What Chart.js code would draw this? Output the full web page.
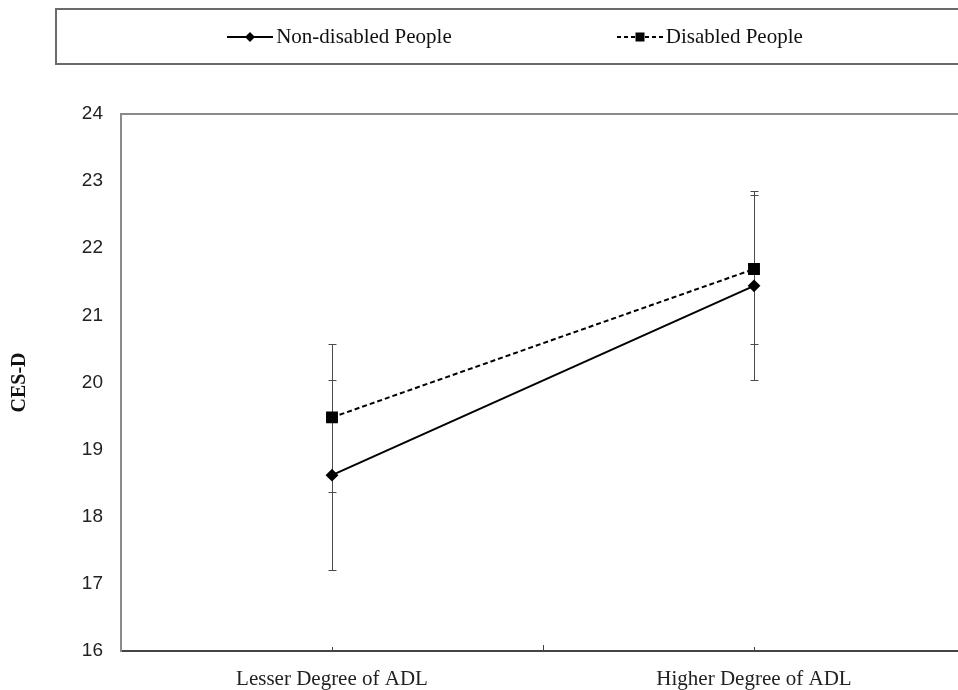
<!DOCTYPE html>
<html>
<head>
<meta charset="utf-8">
<script src="https://cdn.jsdelivr.net/npm/chart.js@4.4.1/dist/chart.umd.min.js"></script>
<style>
  html, body { margin: 0; padding: 0; background: #fff; overflow: hidden; width: 958px; height: 690px; }
  #wrap { position: relative; width: 990px; height: 690px; }
  #legend { position: absolute; left: 55px; top: 8px; width: 920px; height: 57px; box-sizing: border-box;
            border: 2px solid #6a6a6a; display: flex; justify-content: center; align-items: center; gap: 165px;
            font-family: "Liberation Serif", "Times New Roman", serif; font-size: 21px; color: #111; }
  .item { display: flex; align-items: center; }
  .item svg { margin-right: 3px; }
</style>
</head>
<body>
<div id="wrap">
  <canvas id="c" width="990" height="690"></canvas>
  <div id="legend">
    <div class="item">
      <svg width="46" height="14"><line x1="0" y1="7" x2="46" y2="7" stroke="#000" stroke-width="2"/><polygon points="23,2 28,7 23,12 18,7" fill="#000"/></svg>
      <span>Non-disabled People</span>
    </div>
    <div class="item">
      <svg width="46" height="14"><line x1="0" y1="7" x2="46" y2="7" stroke="#000" stroke-width="2" stroke-dasharray="4,3"/><rect x="18.5" y="2.5" width="9" height="9" fill="#000"/></svg>
      <span>Disabled People</span>
    </div>
  </div>
</div>
<script>
const categories = ["Lesser Degree of ADL", "Higher Degree of ADL"];
const seriesNames = ["Non-disabled People", "Disabled People"];
const nonDisabledMean = [18.62, 21.44];
const nonDisabledLow  = [17.21, 20.04];
const nonDisabledHigh = [20.03, 22.86];
const disabledMean = [19.48, 21.69];
const disabledLow  = [18.37, 20.58];
const disabledHigh = [20.57, 22.79];
const yTicks = [16, 17, 18, 19, 20, 21, 22, 23, 24];
const yTitle = "CES-D";

const errorBars = {
  id: 'errorBars',
  beforeDatasetsDraw(chart) {
    const ctx = chart.ctx, x = chart.scales.x, y = chart.scales.y;
    ctx.save();
    ctx.strokeStyle = '#4a4a4a';
    ctx.lineWidth = 1;
    chart.data.datasets.forEach(ds => {
      ds.low.forEach((lo, i) => {
        const px = Math.round(x.getPixelForValue(i)) + 0.5;
        const yl = Math.round(y.getPixelForValue(lo)) + 0.5;
        const yh = Math.round(y.getPixelForValue(ds.high[i])) + 0.5;
        ctx.beginPath();
        ctx.moveTo(px, yl); ctx.lineTo(px, yh);
        ctx.moveTo(px - 4, yl); ctx.lineTo(px + 4, yl);
        ctx.moveTo(px - 4, yh); ctx.lineTo(px + 4, yh);
        ctx.stroke();
      });
    });
    ctx.restore();
  }
};

const frame = {
  id: 'frame',
  afterDraw(chart) {
    const ctx = chart.ctx, a = chart.chartArea, x = chart.scales.x;
    ctx.save();
    ctx.strokeStyle = '#8a8a8a';
    ctx.lineWidth = 2;
    ctx.beginPath();
    ctx.moveTo(a.left - 1, a.top); ctx.lineTo(a.right, a.top);
    ctx.moveTo(a.right, a.top); ctx.lineTo(a.right, a.bottom);
    ctx.stroke();
    ctx.strokeStyle = '#444';
    ctx.lineWidth = 1;
    const p0 = x.getPixelForValue(0), p1 = x.getPixelForValue(1);
    [[p0, 4], [(p0 + p1) / 2, 6], [p1, 4]].forEach(([px, len]) => {
      const xx = Math.round(px) + 0.5;
      ctx.beginPath(); ctx.moveTo(xx, a.bottom); ctx.lineTo(xx, a.bottom - len); ctx.stroke();
    });
    ctx.restore();
  }
};

new Chart(document.getElementById('c'), {
  type: 'line',
  data: {
    labels: categories,
    datasets: [
      { label: seriesNames[0], data: nonDisabledMean, low: nonDisabledLow, high: nonDisabledHigh,
        borderColor: '#000', backgroundColor: '#000', borderWidth: 2,
        pointStyle: 'rectRot', pointRadius: 5, pointHoverRadius: 5 },
      { label: seriesNames[1], data: disabledMean, low: disabledLow, high: disabledHigh,
        borderColor: '#000', backgroundColor: '#000', borderWidth: 2, borderDash: [5, 3],
        pointStyle: 'rect', pointRadius: 7, pointHoverRadius: 7 }
    ]
  },
  options: {
    responsive: false,
    animation: false,
    layout: { padding: { top: 114, right: 25, left: 0, bottom: 0 } },
    plugins: { legend: { display: false }, tooltip: { enabled: false } },
    scales: {
      x: {
        offset: true,
        afterFit(s) { s.height = 39; },
        grid: { display: false, drawTicks: false },
        border: { display: true, color: '#444', width: 2 },
        ticks: { padding: 16, color: '#222', font: { family: '"Liberation Serif", "Times New Roman", serif', size: 21 } }
      },
      y: {
        min: 16, max: 24,
        afterBuildTicks(s) { s.ticks = yTicks.map(v => ({ value: v })); },
        afterFit(s) { s.width = 121; },
        grid: { display: false, drawTicks: false },
        border: { display: true, color: '#8a8a8a', width: 2 },
        ticks: { padding: 18, color: '#222', font: { family: '"Liberation Sans", Arial, sans-serif', size: 19 } },
        title: { display: true, text: yTitle, color: '#111', padding: { top: 8, bottom: 0 },
                 font: { family: '"Liberation Serif", "Times New Roman", serif', size: 20, weight: 'bold' } }
      }
    }
  },
  plugins: [errorBars, frame]
});
</script>
</body>
</html>
